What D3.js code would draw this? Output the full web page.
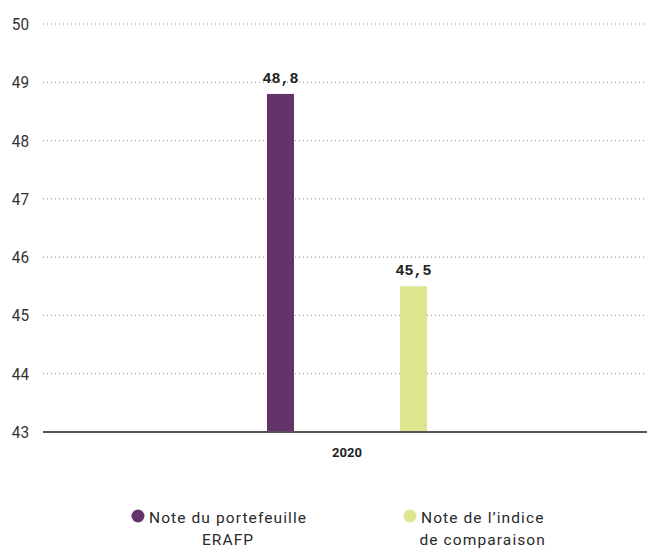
<!DOCTYPE html>
<html>
<head>
<meta charset="utf-8">
<script src="https://cdn.jsdelivr.net/npm/d3@7"></script>
<style>
  body { margin: 0; background: #fff; }
  svg { display: block; font-family: "Roboto", "DejaVu Sans", sans-serif; }
</style>
</head>
<body>
<svg width="647" height="548"></svg>
<script>
var years = ["2020"];
var series = ["Note du portefeuille ERAFP", "Note de l\u2019indice de comparaison"];
var values = [48.8, 45.5];
var valueLabels = ["48,8", "45,5"];
var colors = ["#643369", "#dde58f"];
var legendLines = [["Note du portefeuille", "ERAFP"], ["Note de l\u2019indice", "de comparaison"]];
var yTicks = [43, 44, 45, 46, 47, 48, 49, 50];

var svg = d3.select("svg");
var plotLeft = 43, plotRight = 647, plotTop = 24, plotBottom = 432;

var y = d3.scaleLinear().domain([43, 50]).range([plotBottom, plotTop]);
var x0 = d3.scaleBand().domain(years).range([plotLeft, plotRight]);

// gridlines
svg.append("g")
	.selectAll("line")
	.data(yTicks.filter(d => d > 43))
	.enter()
	.append("line")
	.attr("x1", plotLeft)
	.attr("x2", plotRight)
	.attr("y1", d => y(d))
	.attr("y2", d => y(d))
	.attr("stroke", "#8a8a8a")
	.attr("stroke-width", 1)
	.attr("stroke-dasharray", "1,3");

// y labels (a bit condensed like the original)
svg.append("g")
	.selectAll("text")
	.data(yTicks)
	.enter()
	.append("text")
	.attr("transform", d => "translate(29," + (y(d) + 6) + ") scale(0.9,1)")
	.attr("text-anchor", "end")
	.attr("fill", "#333")
	.style("font-size", "17px")
	.text(d => d);

// bars
var cx = x0("2020") + x0.bandwidth() / 2 + 2;
var x1 = d3.scalePoint().domain(series).range([cx - 66.5, cx + 66.5]);
var barW = 27;

var g = svg.append("g");
g.selectAll("rect")
	.data(values)
	.enter()
	.append("rect")
	.attr("x", (d, i) => x1(series[i]) - barW / 2)
	.attr("width", barW)
	.attr("y", d => y(d))
	.attr("height", d => y(43) - y(d))
	.attr("fill", (d, i) => colors[i]);

g.selectAll("text")
	.data(values)
	.enter()
	.append("text")
	.attr("x", (d, i) => x1(series[i]))
	.attr("y", d => y(d) - 11)
	.attr("text-anchor", "middle")
	.attr("fill", "#222")
	.style("font-family", "'Courier New', 'Liberation Mono', 'DejaVu Sans Mono', monospace")
	.style("font-weight", "bold")
	.style("font-size", "15px")
	.text((d, i) => valueLabels[i]);

// baseline axis
svg.append("line")
	.attr("x1", plotLeft)
	.attr("x2", plotRight)
	.attr("y1", plotBottom)
	.attr("y2", plotBottom)
	.attr("stroke", "#555")
	.attr("stroke-width", 2);

svg.append("text")
	.attr("x", cx)
	.attr("y", 457)
	.attr("text-anchor", "middle")
	.attr("fill", "#222")
	.style("font-weight", "bold")
	.style("font-size", "13px")
	.text("2020");

// legend
var legendX = [138, 410];
var legend = svg.append("g")
	.selectAll("g")
	.data(legendLines)
	.enter()
	.append("g")
	.attr("transform", (d, i) => "translate(" + legendX[i] + ",516)");

legend.append("circle")
	.attr("r", 6.5)
	.attr("fill", (d, i) => colors[i]);

legend.each(function(d) {
	var el = d3.select(this);
	var t1 = el.append("text")
		.attr("x", 11)
		.attr("y", 7)
		.attr("fill", "#2a2a2a")
		.style("font-size", "15.5px")
		.style("letter-spacing", "1.1px")
		.text(d[0]);
	var w = t1.node().getComputedTextLength();
	el.append("text")
		.attr("x", 11 + w / 2)
		.attr("y", 29)
		.attr("text-anchor", "middle")
		.attr("fill", "#2a2a2a")
		.style("font-size", "15.5px")
		.style("letter-spacing", "1.1px")
		.text(d[1]);
});
</script>
</body>
</html>
